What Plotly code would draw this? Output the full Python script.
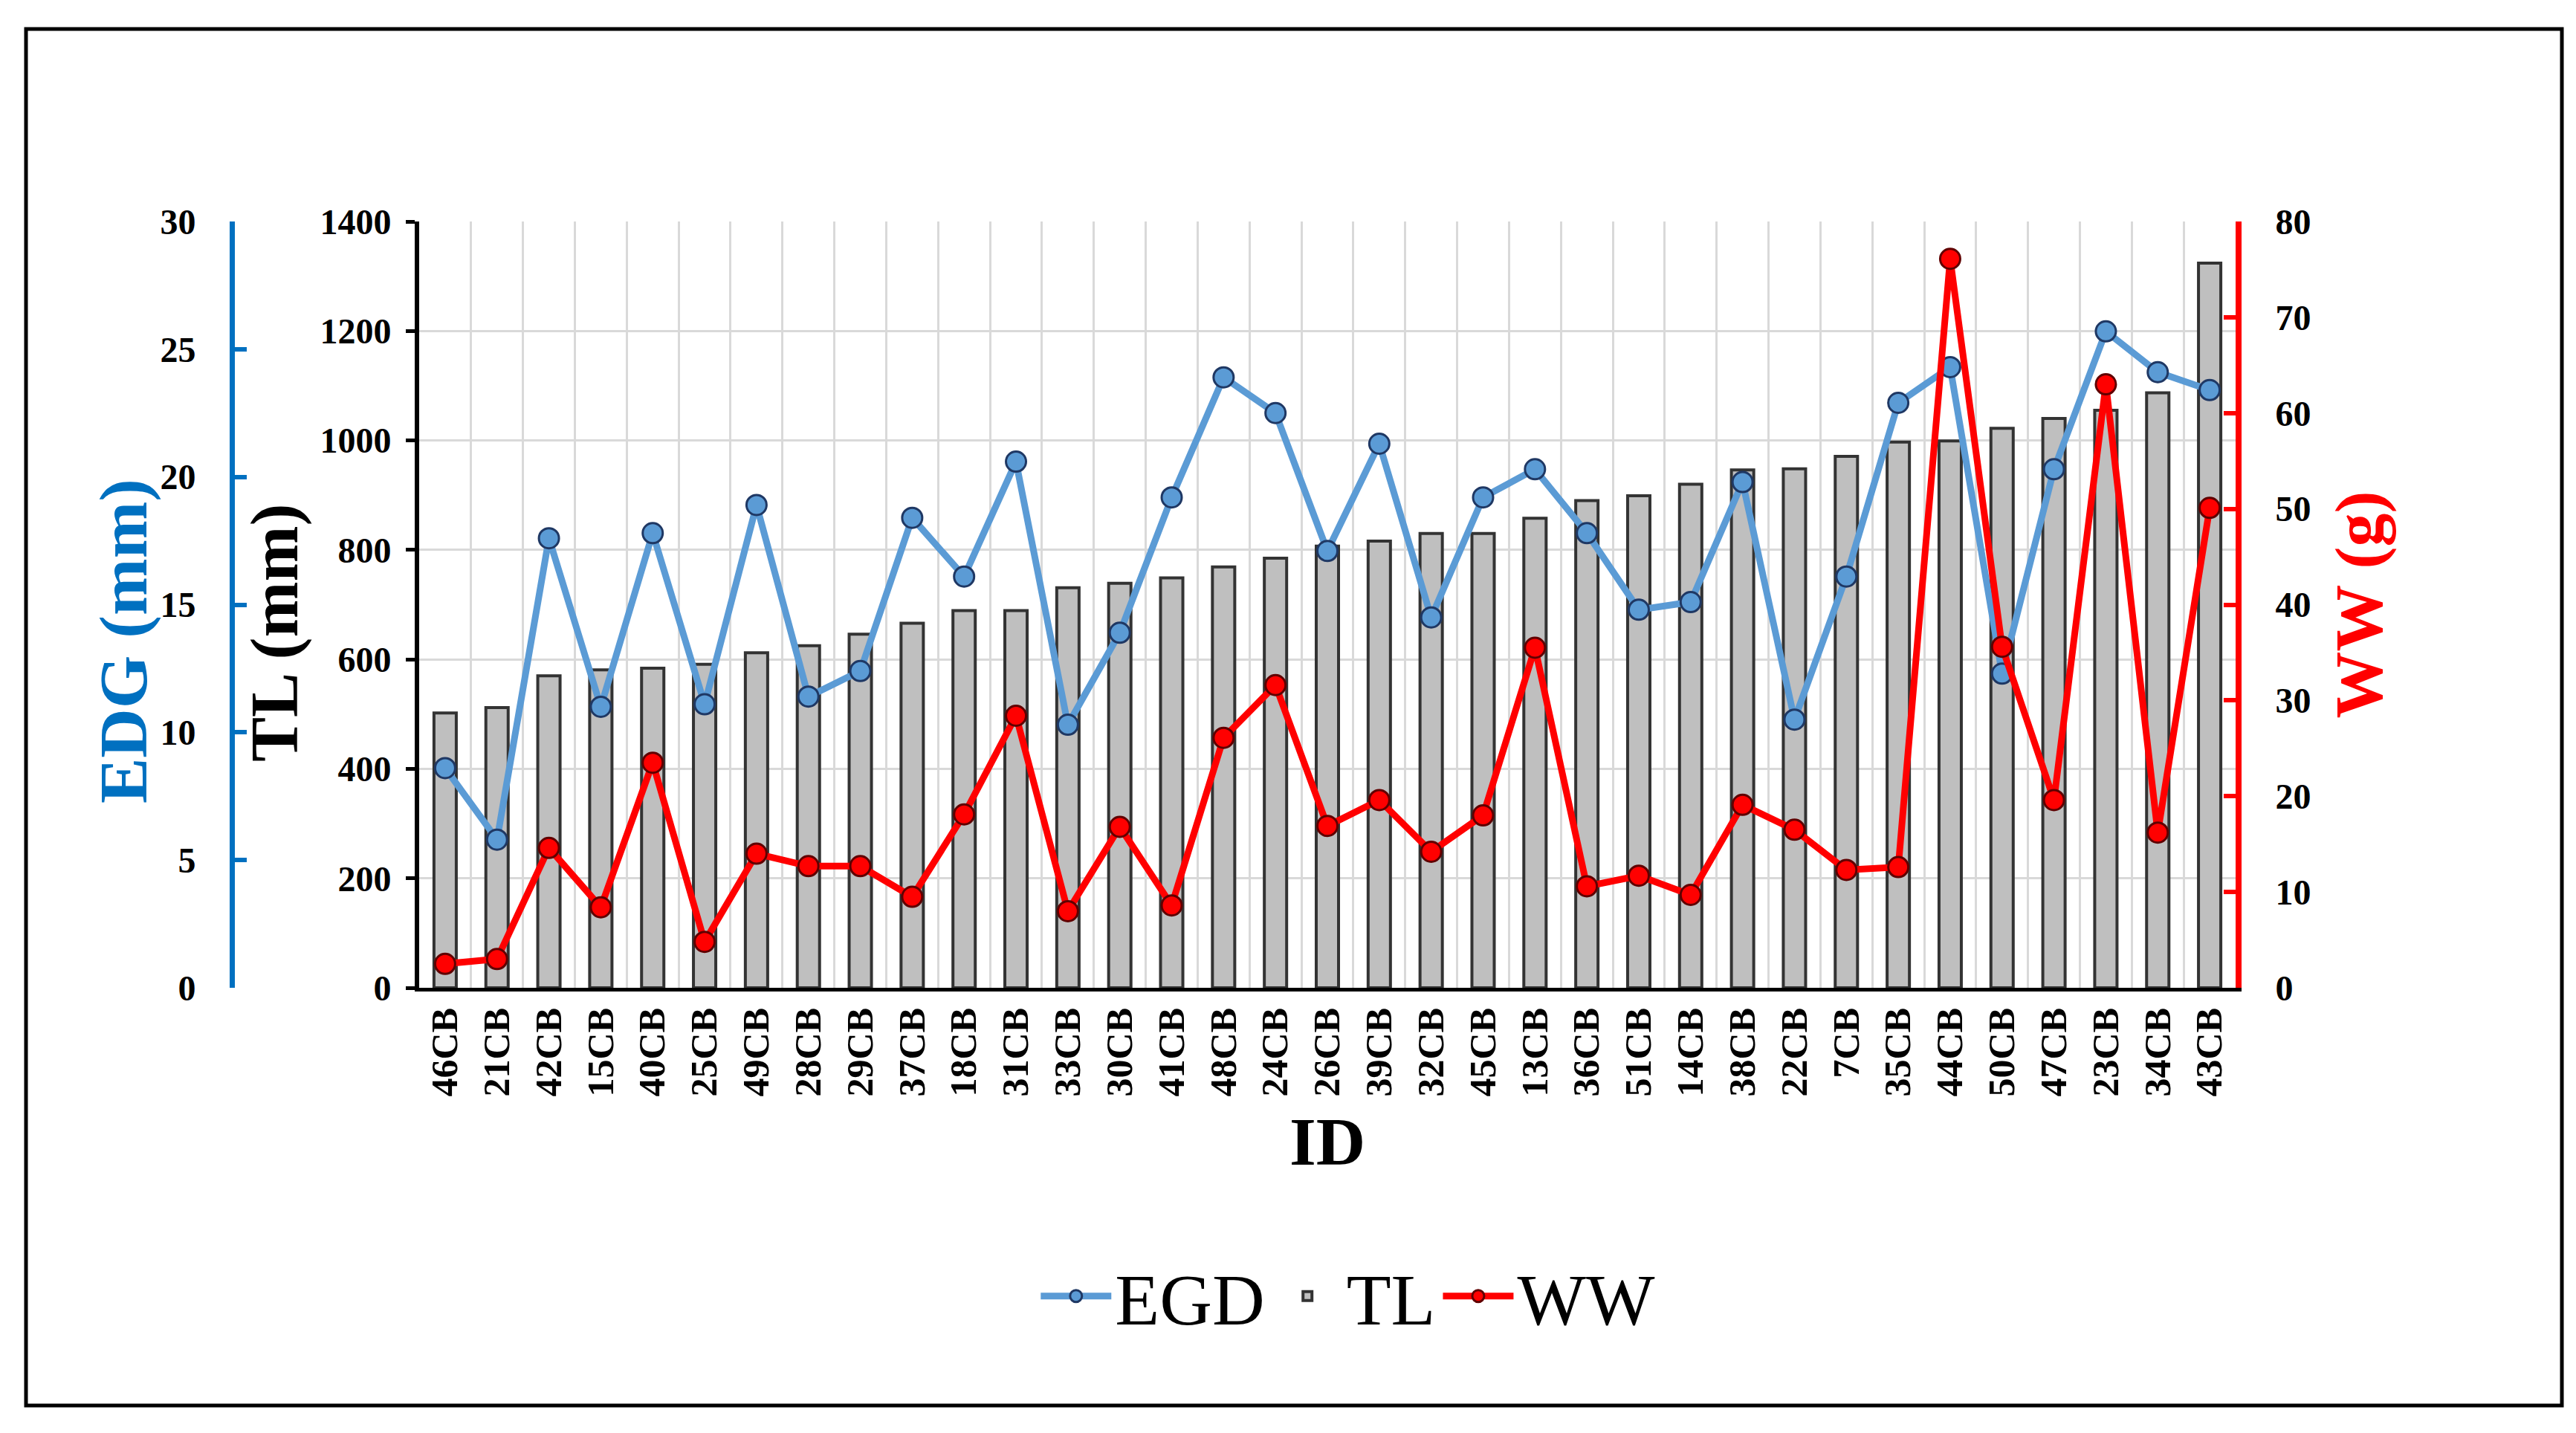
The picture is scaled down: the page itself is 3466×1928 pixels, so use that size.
import plotly.graph_objects as go

# specimen IDs along the x axis
ids = [
  "46CB", "21CB", "42CB", "15CB", "40CB", "25CB", "49CB", "28CB", "29CB", "37CB",
  "18CB", "31CB", "33CB", "30CB", "41CB", "48CB", "24CB", "26CB", "39CB", "32CB",
  "45CB", "13CB", "36CB", "51CB", "14CB", "38CB", "22CB", "7CB", "35CB", "44CB",
  "50CB", "47CB", "23CB", "34CB", "43CB",
]
# total length [mm]
tl = [
  502, 512, 570, 581, 584, 591, 612, 625, 646, 666,
  689, 689, 731, 739, 749, 769, 785, 807, 816, 830,
  830, 858, 890, 899, 920, 946, 948, 971, 997, 999,
  1022, 1040, 1055, 1087, 1324,
]
# eye diameter [mm]
edg = [
  8.6, 5.8, 17.6, 11.0, 17.8, 11.1, 18.9, 11.4, 12.4, 18.4,
  16.1, 20.6, 10.3, 13.9, 19.2, 23.9, 22.5, 17.1, 21.3, 14.5,
  19.2, 20.3, 17.8, 14.8, 15.1, 19.8, 10.5, 16.1, 22.9, 24.3,
  12.3, 20.3, 25.7, 24.1, 23.4,
]
# wet weight [g]
ww = [
  2.5, 3.0, 14.6, 8.4, 23.5, 4.8, 14.0, 12.7, 12.7, 9.5,
  18.1, 28.4, 8.0, 16.8, 8.6, 26.1, 31.6, 16.9, 19.6, 14.2,
  18.0, 35.5, 10.6, 11.7, 9.7, 19.1, 16.5, 12.3, 12.6, 76.1,
  35.6, 19.6, 63.0, 16.2, 50.1,
]

W, H = 3466, 1928
SERIF = "Liberation Serif"
BLUE_AX = "#0070C0"
BLUE = "#5B9BD5"
RED = "#FF0000"
GRID = "#D9D9D9"


def bold(size, color="black"):
  return dict(family=SERIF, size=size, color=color, weight="bold")


fig = go.Figure()
fig.add_trace(go.Bar(
  x=ids, y=tl, name="TL", yaxis="y", width=0.43,
  marker=dict(color="#BFBFBF", line=dict(color="#333333", width=4)),
  legendrank=2,
))
fig.add_trace(go.Scatter(
  x=ids, y=ww, name="WW", yaxis="y3", mode="lines+markers",
  line=dict(color=RED, width=9),
  marker=dict(color=RED, size=27, line=dict(color="#600000", width=3)),
  legendrank=3,
))
fig.add_trace(go.Scatter(
  x=ids, y=edg, name="EGD", yaxis="y2", mode="lines+markers",
  line=dict(color=BLUE, width=9),
  marker=dict(color=BLUE, size=27, line=dict(color="#1F3864", width=3)),
  legendrank=1,
))

fig.update_layout(
  width=W, height=H,
  margin=dict(l=0, r=0, t=0, b=0),
  paper_bgcolor="white", plot_bgcolor="white",
  font=dict(family=SERIF),
  xaxis=dict(
    type="category", domain=[556 / W, 3000 / W], range=[-0.5, len(ids) - 0.5],
    showline=True, linecolor="black", linewidth=5,
    tickson="boundaries", showgrid=True, gridcolor=GRID, gridwidth=3,
    ticks="", tickangle=-90, tickfont=bold(50), ticklabelstandoff=2,
    title=dict(text="ID", font=bold(92), standoff=30),
    automargin=False, zeroline=False,
  ),
  yaxis=dict(
    domain=[1 - 1321 / H, 1 - 290 / H], range=[0, 1400], dtick=200,
    side="left", anchor="x",
    showline=True, linecolor="black", linewidth=6,
    ticks="outside", ticklen=12, tickwidth=5, tickcolor="black",
    showgrid=True, gridcolor=GRID, gridwidth=3, zeroline=False,
    tickfont=bold(48), ticklabelstandoff=10,
    automargin=False,
  ),
  yaxis2=dict(
    overlaying="y", side="left", anchor="free", position=304 / W,
    range=[0, 30], dtick=5, showgrid=False, zeroline=False,
    showline=True, linecolor=BLUE_AX, linewidth=7,
    ticks="inside", ticklen=16, tickwidth=6, tickcolor=BLUE_AX,
    tickfont=bold(48), ticklabelstandoff=36,
    automargin=False,
  ),
  yaxis3=dict(
    overlaying="y", side="right", anchor="x",
    range=[0, 80], dtick=10, showgrid=False, zeroline=False,
    showline=True, linecolor=RED, linewidth=8,
    ticks="inside", ticklen=16, tickwidth=6, tickcolor=RED,
    tickfont=bold(48), ticklabelstandoff=36,
    title=dict(text="WW (g)", font=bold(90, RED), standoff=36),
    automargin=False,
  ),
  legend=dict(
    orientation="h", x=0.521, xanchor="center", y=1 - 1736 / H, yanchor="middle",
    font=dict(family=SERIF, size=98, color="black"),
    traceorder="normal", itemwidth=95,
  ),
  shapes=[dict(
    type="rect", xref="paper", yref="paper",
    x0=27 / W, x1=3439 / W, y0=1 - 1883 / H, y1=1 - 31 / H,
    line=dict(color="black", width=5), layer="above",
  )],
)

# left axis titles placed by hand, like in the original figure
fig.add_annotation(
  text="EDG (mm)", textangle=-90, xref="paper", yref="paper",
  x=158 / W, y=1 - 855 / H, xanchor="center", yanchor="middle",
  showarrow=False, font=bold(92, BLUE_AX),
)
fig.add_annotation(
  text="TL (mm)", textangle=-90, xref="paper", yref="paper",
  x=362 / W, y=1 - 844 / H, xanchor="center", yanchor="middle",
  showarrow=False, font=bold(90),
)

fig.write_html("out.html")
